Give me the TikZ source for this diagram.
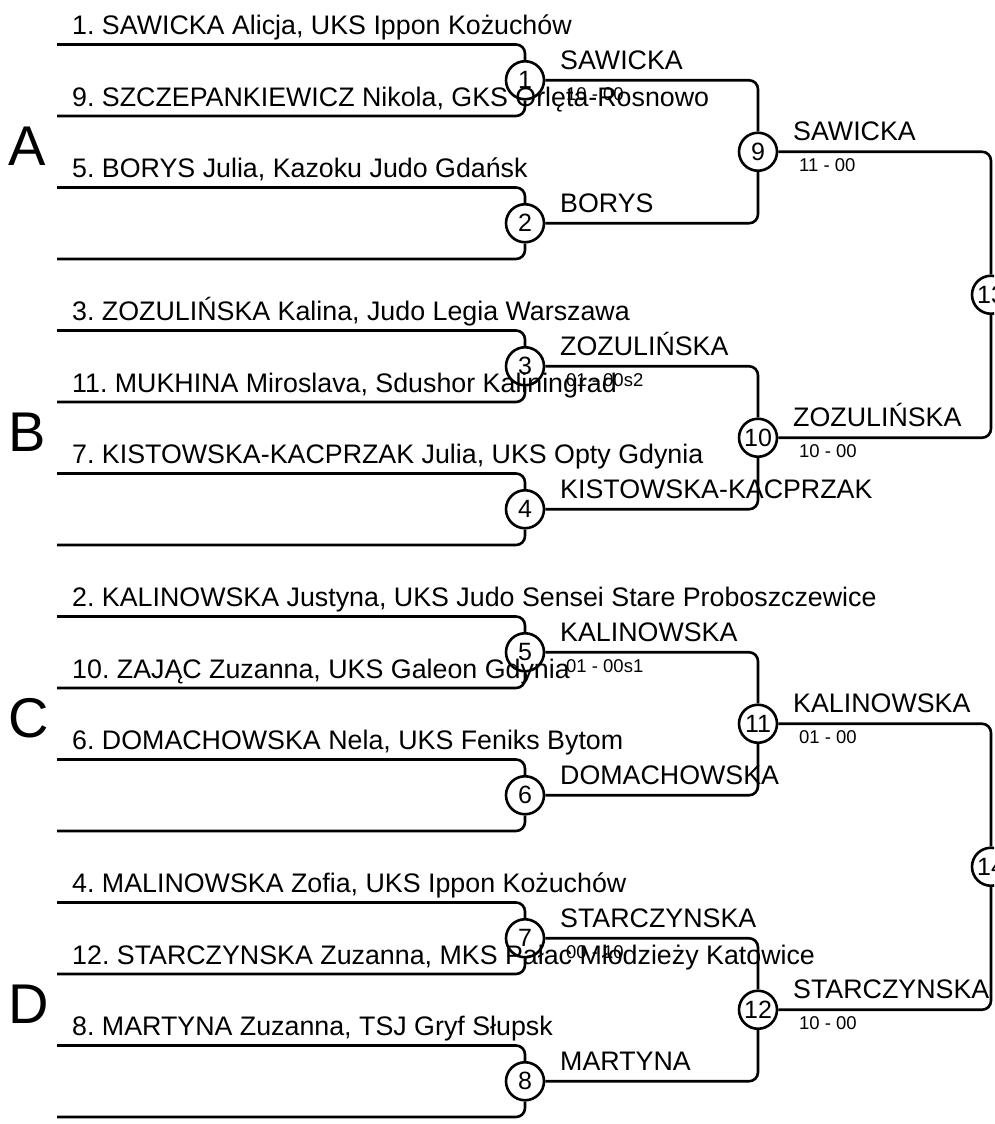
\documentclass[tikz,border=0pt]{standalone}
\usepackage{fontspec}
\setmainfont{Liberation Sans}
\usepackage{tikz}
\usetikzlibrary{calc}
\frenchspacing
\definecolor{ink}{HTML}{000000}
\tikzset{
  brk/.style={draw=ink,line width=2.6pt,rounded corners=9pt},
  bout/.style={circle,draw=ink,line width=2.6pt,minimum size=38pt,inner sep=0pt,
    font=\fontsize{25}{28}\selectfont},
  lbl/.style={anchor=base west,inner sep=0pt,font=\fontsize{26.8}{30}\selectfont},
  scr/.style={anchor=base west,inner sep=0pt,font=\fontsize{18.5}{21}\selectfont},
  pool/.style={anchor=base west,inner sep=0pt,font=\fontsize{56}{60}\selectfont}
}

\begin{document}
\begin{tikzpicture}[x=1pt,y=-1pt,text=ink]
\useasboundingbox (0,0) rectangle (994,1124);
\clip (0,0) rectangle (994,1124);
% bouts, one column per round (lines are 71.5 apart)
\foreach \i in {1,...,8}
  \node[bout] (m\i) at (525,{44.5+71.5*(2*\i-1.5)}) {\i};
\foreach \j/\n in {1/9,2/10,3/11,4/12}
  \node[bout] (m\n) at (758,{44.5+71.5*(4*\j-2.5)}) {\n};
\foreach \q/\n in {1/13,2/14}
  \node[bout] (m\n) at (991,{44.5+71.5*(8*\q-4.5)}) {\n};
% entry lines
\foreach \k/\m in {1/1,2/1,3/2,4/2,5/3,6/3,7/4,8/4,9/5,10/5,11/6,12/6,13/7,14/7,15/8,16/8}{
  \coordinate (p\k) at (57,{44.5+71.5*(\k-1)});
  \draw[brk] (p\k) -| (m\m);
}
\foreach \a/\b in {1/9,2/9,3/10,4/10,5/11,6/11,7/12,8/12,9/13,10/13,11/14,12/14}
  \draw[brk] (m\a) -| (m\b);
% competitors
\foreach \k/\t in {1/{1. SAWICKA Alicja, UKS Ippon Kożuchów},
    2/{9. SZCZEPANKIEWICZ Nikola, GKS Orlęta-Rosnowo},
    3/{5. BORYS Julia, Kazoku Judo Gdańsk},
    5/{3. ZOZULIŃSKA Kalina, Judo Legia Warszawa},
    6/{11. MUKHINA Miroslava, Sdushor Kaliningrad},
    7/{7. KISTOWSKA-KACPRZAK Julia, UKS Opty Gdynia},
    9/{2. KALINOWSKA Justyna, UKS Judo Sensei Stare Proboszczewice},
    10/{10. ZAJĄC Zuzanna, UKS Galeon Gdynia},
    11/{6. DOMACHOWSKA Nela, UKS Feniks Bytom},
    13/{4. MALINOWSKA Zofia, UKS Ippon Kożuchów},
    14/{12. STARCZYNSKA Zuzanna, MKS Pałac Młodzieży Katowice},
    15/{8. MARTYNA Zuzanna, TSJ Gryf Słupsk}}
  \node[lbl] (n\k) at ($(p\k)+(15,-10)$) {\t};
% winners and scores
\foreach \i/\w in {1/SAWICKA,2/BORYS,3/ZOZULIŃSKA,4/KISTOWSKA-KACPRZAK,
    5/KALINOWSKA,6/DOMACHOWSKA,7/STARCZYNSKA,8/MARTYNA,
    9/SAWICKA,10/ZOZULIŃSKA,11/KALINOWSKA,12/STARCZYNSKA}
  \node[lbl] (w\i) at ($(m\i)+(35,-11)$) {\w};
\foreach \i/\s in {1/10 - 00,3/01 - 00s2,5/01 - 00s1,7/00 - 10,
    9/11 - 00,10/10 - 00,11/01 - 00,12/10 - 00}
  \node[scr] (s\i) at ($(m\i)+(41,20)$) {\s};
% pools
\foreach \n/\L in {9/A,10/B,11/C,12/D}
  \node[pool] (pool\L) at ($(m\n)+(-750,14)$) {\L};
\end{tikzpicture}
\end{document}
